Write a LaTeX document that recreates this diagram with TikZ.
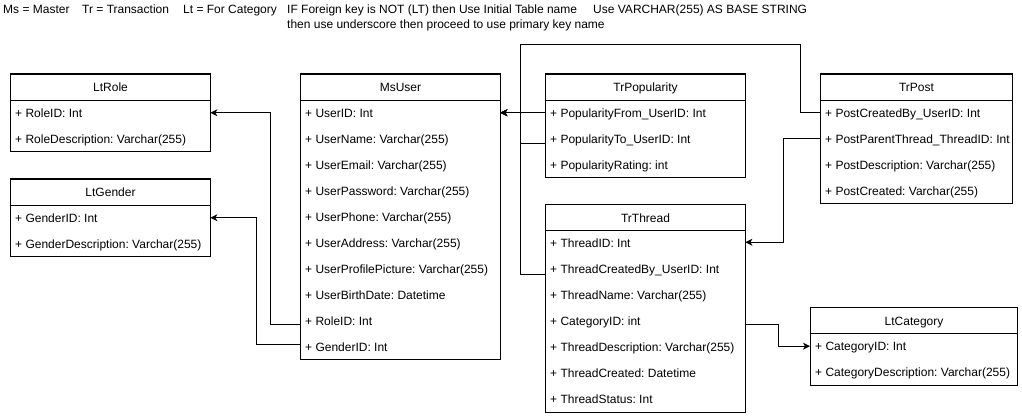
\documentclass[tikz,border=0pt]{standalone}
\usepackage{fontspec}
\setmainfont{Liberation Sans}
\usetikzlibrary{arrows.meta}
\frenchspacing
\tikzset{
  ftxt/.style={font=\fontsize{12}{14}\selectfont\frenchspacing},
  hd/.style={ftxt, draw, line width=1pt, minimum height=26pt, inner sep=0pt, text height=11pt, text depth=1.5pt},
  rw/.style={ftxt, minimum height=26pt, inner sep=0pt, text height=11pt, text depth=1.5pt},
  boxline/.style={line width=1pt},
  conn/.style={line width=1pt, -{Stealth[length=7pt,width=7pt,inset=2pt]}},
  note/.style={ftxt, inner sep=0pt, anchor=base west},
}
\newcommand\erent[6]{%
  \node[hd, minimum width=#4pt, anchor=north west] (#1) at (#2,#3) {#5};
  \foreach \rowtxt [count=\k] in {#6} {
    \node[rw, anchor=north west] (#1-\k) at (#2,{#3+26*\k}) {\makebox[#4pt][l]{\hspace{5pt}\rowtxt}};
    \xdef\lastn{\k}
  }
  \draw[boxline] (#1.north west) rectangle (#1-\lastn.south east);
}
\begin{document}
\begin{tikzpicture}[x=1pt,y=-1pt]
\useasboundingbox (0,0) rectangle (1022,416);
\fill[white] (0,0) rectangle (1022,416);

% notes
\node[note] (n1) at (3,13) {Ms = Master};
\node[note] (n2) at (82,13) {Tr = Transaction};
\node[note] (n3) at (183,13) {Lt = For Category};
\node[note] (n4) at (287,13) {IF Foreign key is NOT (LT) then Use Initial Table name};
\node[note] (n5) at (287,28.3) {then use underscore then proceed to use primary key name};
\node[note] (n6) at (593,13) {Use VARCHAR(255) AS BASE STRING};

% entities
\erent{LtRole}{10}{73.5}{200}{LtRole}{+ RoleID: Int, + RoleDescription: Varchar(255)}
\erent{LtGender}{10}{178.5}{200}{LtGender}{+ GenderID: Int, + GenderDescription: Varchar(255)}
\erent{MsUser}{300}{73.5}{200}{MsUser}{+ UserID: Int, + UserName: Varchar(255), + UserEmail: Varchar(255), + UserPassword: Varchar(255), + UserPhone: Varchar(255), + UserAddress: Varchar(255), + UserProfilePicture: Varchar(255), + UserBirthDate: Datetime, + RoleID: Int, + GenderID: Int}
\erent{TrPopularity}{545}{73.5}{200}{TrPopularity}{+ PopularityFrom\_UserID: Int, + PopularityTo\_UserID: Int, + PopularityRating: int}
\erent{TrThread}{545}{204}{200}{TrThread}{+ ThreadID: Int, + ThreadCreatedBy\_UserID: Int, + ThreadName: Varchar(255), + CategoryID: int, + ThreadDescription: Varchar(255), + ThreadCreated: Datetime, + ThreadStatus: Int}
\erent{TrPost}{820}{73.5}{192}{TrPost}{+ PostCreatedBy\_UserID: Int, + PostParentThread\_ThreadID: Int, + PostDescription: Varchar(255), + PostCreated: Varchar(255)}
\erent{LtCategory}{810}{307}{207}{LtCategory}{+ CategoryID: Int, + CategoryDescription: Varchar(255)}

% connectors
\coordinate (topjog) at (520,44);
\draw[conn] ([yshift=-4pt]MsUser-9.west) -- ++(-30,0) |- (LtRole-1.east);
\draw[conn] ([yshift=2pt]MsUser-10.west) -- ++(-44,0) |- (LtGender-1.east);
\draw[conn] (TrPopularity-1.west) -- (MsUser-1.east);
\draw[conn] ([yshift=-5pt]TrPopularity-2.west) -- ++(-25,0) |- (MsUser-1.east);
\draw[conn] ([yshift=-5pt]TrThread-2.west) -- ++(-25,0) |- (MsUser-1.east);
\draw[conn] (TrPost-1.west) -- ++(-20,0) |- (topjog) |- (MsUser-1.east);
\draw[conn] (TrPost-2.west) -- ++(-37,0) |- ([yshift=1pt]TrThread-1.east);
\draw[conn] ([yshift=-3pt]TrThread-4.east) -- ++(33,0) |- (LtCategory-1.west);
\end{tikzpicture}
\end{document}
